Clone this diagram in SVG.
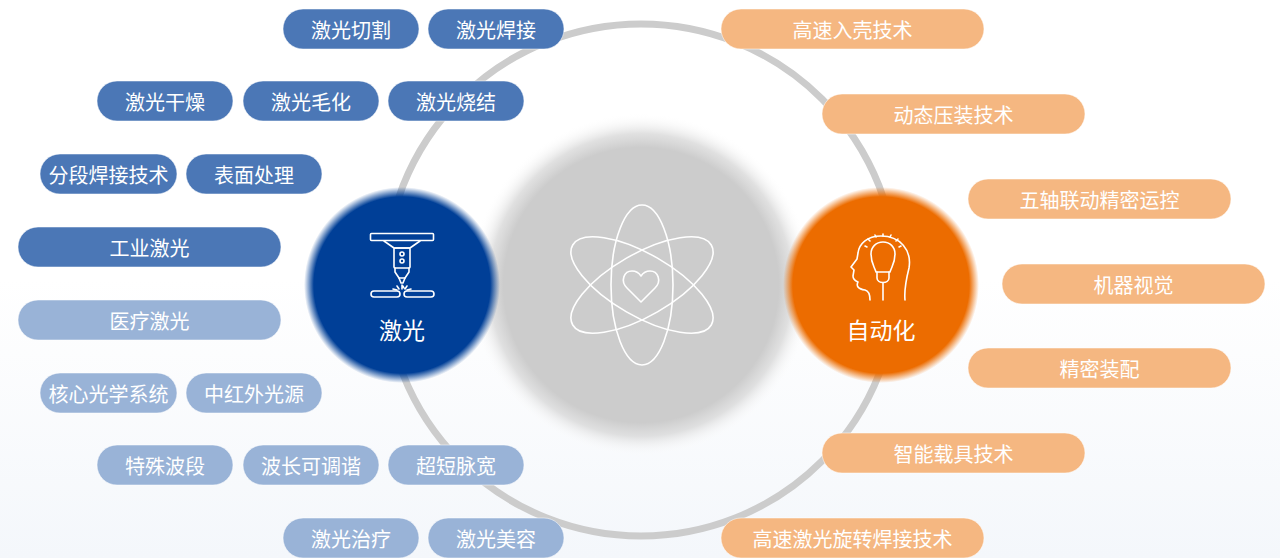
<svg xmlns="http://www.w3.org/2000/svg" width="1280" height="558" viewBox="0 0 1280 558">
<defs>
<linearGradient id="bg" x1="0" y1="0" x2="0" y2="1">
<stop offset="0" stop-color="#ffffff"/>
<stop offset="0.5" stop-color="#ffffff"/>
<stop offset="1" stop-color="#f4f7fb"/>
</linearGradient>
<radialGradient id="gGray" cx="0.5" cy="0.5" r="0.5">
<stop offset="0" stop-color="#cccccc"/>
<stop offset="0.8" stop-color="#cccccc"/>
<stop offset="0.88" stop-color="#d6d6d6" stop-opacity="0.75"/>
<stop offset="0.95" stop-color="#eeeeee" stop-opacity="0.3"/>
<stop offset="1" stop-color="#ffffff" stop-opacity="0"/>
</radialGradient>
<radialGradient id="gBlue" cx="0.5" cy="0.5" r="0.5">
<stop offset="0" stop-color="#003f97"/>
<stop offset="0.9" stop-color="#003f97"/>
<stop offset="1" stop-color="#003f97" stop-opacity="0"/>
</radialGradient>
<radialGradient id="gOrange" cx="0.5" cy="0.5" r="0.5">
<stop offset="0" stop-color="#ec6c00"/>
<stop offset="0.9" stop-color="#ec6c00"/>
<stop offset="1" stop-color="#ec6c00" stop-opacity="0"/>
</radialGradient>
<style>
text{font-family:"Noto Sans CJK SC","Noto Sans",sans-serif;fill:#ffffff;text-anchor:middle;dominant-baseline:central}
.pill text{font-size:20px}
.dk rect{fill:#4b77b6;stroke:#ffffff;stroke-opacity:0.5;stroke-width:1}
.lt rect{fill:#99b3d7;stroke:#ffffff;stroke-opacity:0.5;stroke-width:1}
.or rect{fill:#f5b781;stroke:#ffffff;stroke-opacity:0.5;stroke-width:1}
.ic{fill:none;stroke:#ffffff;stroke-width:1.6;stroke-linecap:round;stroke-linejoin:round}
.big{font-size:23px}
</style>
</defs>
<rect width="1280" height="558" fill="url(#bg)"/>

<g id="connectors">
<circle cx="641" cy="280" r="256" fill="none" stroke="#cccccc" stroke-width="7"/>
</g>

<g id="core">
<circle cx="641" cy="285" r="172" fill="url(#gGray)"/>
<g class="ic" stroke-width="2.6">
<ellipse cx="642" cy="285" rx="31" ry="80"/>
<ellipse cx="642" cy="285" rx="80" ry="31" transform="rotate(30 642 285)"/>
<ellipse cx="642" cy="285" rx="80" ry="31" transform="rotate(-30 642 285)"/>
<path d="M641 302 L627 288 C620 281 624 271 632 271 C636 271 639 273 641 276 C643 273 646 271 650 271 C658 271 662 281 655 288 Z"/>
</g>
</g>

<g id="laser">
<circle cx="402" cy="285" r="98" fill="url(#gBlue)"/>
<g class="ic" stroke-width="1.5">
<rect x="370.5" y="233.5" width="63" height="7" rx="1"/>
<path d="M384 241 L394 248 L410 248 L420 241"/>
<rect x="394" y="248" width="16" height="20" rx="1"/>
<circle cx="402" cy="254" r="2"/>
<circle cx="402" cy="261" r="2"/>
<path d="M395 268 L395 272 L399 278 L405 278 L409 272 L409 268"/>
<path d="M399 278 L401 283 L403 283 L405 278"/>
<path d="M402 285 L402 289 M397 286 L399 289 M407 286 L405 289 M393 289 L397 290 M411 289 L407 290 M403 286 L404 288"/>
<rect x="371" y="291" width="29" height="6" rx="3"/>
<rect x="404" y="291" width="30" height="6" rx="3"/>
</g>
<text class="big" x="402" y="329">激光</text>
</g>

<g id="automation">
<circle cx="881" cy="285" r="98" fill="url(#gOrange)"/>
<g class="ic" stroke-width="1.5">
<path d="M905 300 C904 290 906 280 909 268 C912 250 900 236 881 236 C867 236 859 244 858 253 L857 259 L851 267 L854 270 L853 276 C853 280 856 281 858 282 C856 286 858 289 865 290 C869 291 870 294 870 300"/>
<path d="M876 272 C874 266 871 263 871 254 C871 247 876 242 883 242 C890 242 895 247 895 254 C895 263 892 266 890 272 Z"/>
<path d="M877 272 L877 278 C877 284 889 284 889 278 L889 272"/>
<path d="M883 283 L883 300"/>
<path d="M867 247 L865 246 M870 241 L868 239 M876 237 L875 235 M883 236 L883 234 M890 237 L891 235 M896 241 L898 239 M899 247 L901 246"/>
</g>
<text class="big" x="881" y="329">自动化</text>
</g>

<g id="n-cut" class="pill dk"><rect x="283" y="9" width="136" height="40" rx="20"/><text x="351" y="29">激光切割</text></g>
<g id="n-weld" class="pill dk"><rect x="428" y="9" width="136" height="40" rx="20"/><text x="496" y="29">激光焊接</text></g>
<g id="n-dry" class="pill dk"><rect x="97" y="81" width="136" height="40" rx="20"/><text x="165" y="101">激光干燥</text></g>
<g id="n-tex" class="pill dk"><rect x="243" y="81" width="136" height="40" rx="20"/><text x="311" y="101">激光毛化</text></g>
<g id="n-sin" class="pill dk"><rect x="388" y="81" width="136" height="40" rx="20"/><text x="456" y="101">激光烧结</text></g>
<g id="n-seg" class="pill dk"><rect x="40" y="154" width="137" height="40" rx="20"/><text x="108.5" y="174">分段焊接技术</text></g>
<g id="n-surf" class="pill dk"><rect x="186" y="154" width="136" height="40" rx="20"/><text x="254" y="174">表面处理</text></g>
<g id="n-ind" class="pill dk"><rect x="18" y="227" width="263" height="40" rx="20"/><text x="149.5" y="247">工业激光</text></g>

<g id="n-med" class="pill lt"><rect x="18" y="300" width="263" height="40" rx="20"/><text x="149.5" y="320">医疗激光</text></g>
<g id="n-opt" class="pill lt"><rect x="40" y="373" width="137" height="40" rx="20"/><text x="108.5" y="393">核心光学系统</text></g>
<g id="n-mir" class="pill lt"><rect x="186" y="373" width="136" height="40" rx="20"/><text x="254" y="393">中红外光源</text></g>
<g id="n-band" class="pill lt"><rect x="97" y="445" width="136" height="40" rx="20"/><text x="165" y="465">特殊波段</text></g>
<g id="n-tune" class="pill lt"><rect x="243" y="445" width="136" height="40" rx="20"/><text x="311" y="465">波长可调谐</text></g>
<g id="n-ultra" class="pill lt"><rect x="388" y="445" width="136" height="40" rx="20"/><text x="456" y="465">超短脉宽</text></g>
<g id="n-treat" class="pill lt"><rect x="283" y="518" width="136" height="40" rx="20"/><text x="351" y="538">激光治疗</text></g>
<g id="n-beauty" class="pill lt"><rect x="428" y="518" width="136" height="40" rx="20"/><text x="496" y="538">激光美容</text></g>

<g id="n-shell" class="pill or"><rect x="721" y="9" width="263" height="40" rx="20"/><text x="852.5" y="29">高速入壳技术</text></g>
<g id="n-press" class="pill or"><rect x="822" y="94" width="263" height="40" rx="20"/><text x="953.5" y="114">动态压装技术</text></g>
<g id="n-axis" class="pill or"><rect x="968" y="179" width="263" height="40" rx="20"/><text x="1099.5" y="199">五轴联动精密运控</text></g>
<g id="n-vis" class="pill or"><rect x="1002" y="264" width="263" height="40" rx="20"/><text x="1133.5" y="284">机器视觉</text></g>
<g id="n-asm" class="pill or"><rect x="968" y="348" width="263" height="40" rx="20"/><text x="1099.5" y="368">精密装配</text></g>
<g id="n-carrier" class="pill or"><rect x="822" y="433" width="263" height="40" rx="20"/><text x="953.5" y="453">智能载具技术</text></g>
<g id="n-rot" class="pill or"><rect x="721" y="518" width="263" height="40" rx="20"/><text x="852.5" y="538">高速激光旋转焊接技术</text></g>
</svg>
